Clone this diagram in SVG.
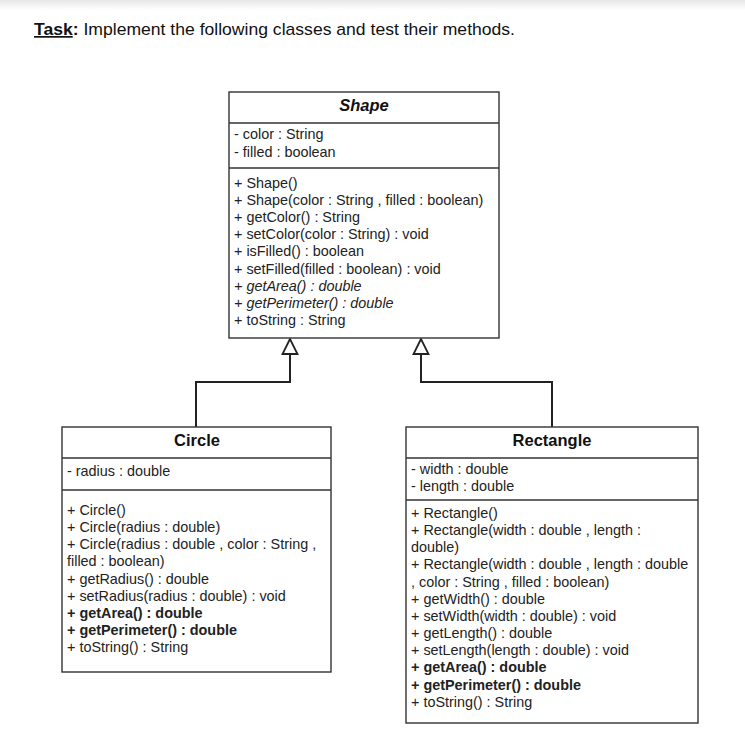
<svg xmlns="http://www.w3.org/2000/svg" width="745" height="741" viewBox="0 0 745 741">
<defs>
<linearGradient id="topg" x1="0" y1="0" x2="0" y2="1">
<stop offset="0" stop-color="#e6e6e6"/>
<stop offset="1" stop-color="#ffffff"/>
</linearGradient>
</defs>
<style>
.box{fill:#fff;stroke:#333;stroke-width:1.4}
.div{stroke:#333;stroke-width:1.4}
.t{font-family:"Liberation Sans",Arial,sans-serif;font-size:14.4px;fill:#222}
.h{font-family:"Liberation Sans",Arial,sans-serif;font-size:16.5px;font-weight:bold;fill:#111}
.i{font-style:italic}
.b{font-weight:bold}
.conn{fill:none;stroke:#222;stroke-width:2}
.head{fill:#fff;stroke:#222;stroke-width:1.8;stroke-linejoin:miter}
</style>
<rect x="0" y="0" width="745" height="741" fill="#fff"/>
<rect x="0" y="0" width="745" height="10" fill="url(#topg)"/>
<text x="34" y="35" font-family="'Liberation Sans',Arial,sans-serif" font-size="17" fill="#111" textLength="481" lengthAdjust="spacingAndGlyphs"><tspan font-weight="bold" text-decoration="underline">Task</tspan><tspan font-weight="bold">:</tspan> Implement the following classes and test their methods.</text>

<g id="connectors">
<path class="conn" d="M196,427 V382 H290 V354"/>
<polygon class="head" points="290,339 282.5,354 297.5,354"/>
<path class="conn" d="M552,427 V382 H421 V354"/>
<polygon class="head" points="421,339 413.5,354 428.5,354"/>
</g>

<g id="shape">
<rect class="box" x="229" y="92" width="270" height="246"/>
<line class="div" x1="229" y1="123" x2="499" y2="123"/>
<line class="div" x1="229" y1="168" x2="499" y2="168"/>
<text class="h i" x="364" y="111" text-anchor="middle">Shape</text>
<text class="t" x="234" y="139">- color : String</text>
<text class="t" x="234" y="157">- filled : boolean</text>
<text class="t" x="234" y="188">+ Shape()</text>
<text class="t" x="234" y="205">+ Shape(color : String , filled : boolean)</text>
<text class="t" x="234" y="222">+ getColor() : String</text>
<text class="t" x="234" y="239">+ setColor(color : String) : void</text>
<text class="t" x="234" y="256">+ isFilled() : boolean</text>
<text class="t" x="234" y="274">+ setFilled(filled : boolean) : void</text>
<text class="t i" x="234" y="291">+ getArea() : double</text>
<text class="t i" x="234" y="308">+ getPerimeter() : double</text>
<text class="t" x="234" y="325">+ toString : String</text>
</g>

<g id="circle">
<rect class="box" x="62" y="427" width="269" height="245"/>
<line class="div" x1="62" y1="458" x2="331" y2="458"/>
<line class="div" x1="62" y1="490" x2="331" y2="490"/>
<text class="h" x="197" y="446" text-anchor="middle">Circle</text>
<text class="t" x="67" y="476">- radius : double</text>
<text class="t" x="67" y="515">+ Circle()</text>
<text class="t" x="67" y="532">+ Circle(radius : double)</text>
<text class="t" x="67" y="549">+ Circle(radius : double , color : String ,</text>
<text class="t" x="67" y="566">filled : boolean)</text>
<text class="t" x="67" y="584">+ getRadius() : double</text>
<text class="t" x="67" y="601">+ setRadius(radius : double) : void</text>
<text class="t b" x="67" y="618">+ getArea() : double</text>
<text class="t b" x="67" y="635">+ getPerimeter() : double</text>
<text class="t" x="67" y="652">+ toString() : String</text>
</g>

<g id="rectangle">
<rect class="box" x="406" y="427" width="292" height="296"/>
<line class="div" x1="406" y1="458" x2="698" y2="458"/>
<line class="div" x1="406" y1="500" x2="698" y2="500"/>
<text class="h" x="552" y="446" text-anchor="middle">Rectangle</text>
<text class="t" x="411" y="474">- width : double</text>
<text class="t" x="411" y="491">- length : double</text>
<text class="t" x="411" y="518">+ Rectangle()</text>
<text class="t" x="411" y="535">+ Rectangle(width : double , length :</text>
<text class="t" x="411" y="552">double)</text>
<text class="t" x="411" y="569">+ Rectangle(width : double , length : double</text>
<text class="t" x="411" y="587">, color : String , filled : boolean)</text>
<text class="t" x="411" y="604">+ getWidth() : double</text>
<text class="t" x="411" y="621">+ setWidth(width : double) : void</text>
<text class="t" x="411" y="638">+ getLength() : double</text>
<text class="t" x="411" y="655">+ setLength(length : double) : void</text>
<text class="t b" x="411" y="672">+ getArea() : double</text>
<text class="t b" x="411" y="690">+ getPerimeter() : double</text>
<text class="t" x="411" y="707">+ toString() : String</text>
</g>
</svg>
